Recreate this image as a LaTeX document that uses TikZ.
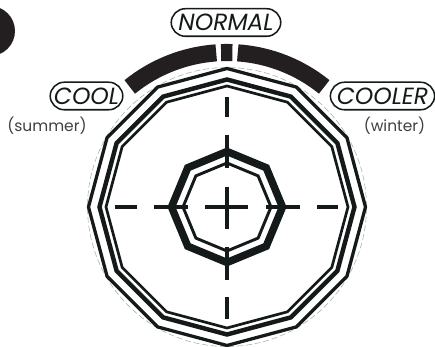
\documentclass[tikz,border=0pt]{standalone}
\usepackage{fontspec}
\setmainfont{Poppins}
\usetikzlibrary{positioning}
\definecolor{inkdark}{HTML}{141A1A}
\definecolor{inkbrown}{HTML}{231F20}
\tikzset{
  pill/.style={draw=inkdark, line width=1.3pt, rounded corners=12pt, inner sep=0pt, minimum height=23.5pt, font=\fontsize{20}{20}\selectfont\itshape, text=inkdark},
  season/.style={font=\fontsize{13.2}{14}\selectfont, text=black!75},
  axisdash/.style={inkdark, line width=2.8pt}
}
\begin{document}
\begin{tikzpicture}[scale=0.03]
\clip (-227,-140) rectangle (208,207);
\useasboundingbox (-227,-140) rectangle (208,207);
% Corner disc
\fill[inkbrown] (-237,176) circle (25);
% Dashed guide circle
\draw[black!35, line width=0.45pt, dash pattern=on 5pt off 2.5pt] (0,0) circle (139.5);
% Twelve sided rings
\foreach \r/\w in {138.5/2.8pt,127.5/3.8pt,121/2.3pt} {
  \draw[inkdark, line width=\w] (90:\r) \foreach \a in {120,150,...,420} { -- (\a:\r) } -- cycle;
}
% Eight sided rings
\foreach \r/\w in {55.5/6.4pt,44/2.5pt} {
  \draw[inkdark, line width=\w] (90:\r) \foreach \a in {135,180,...,405} { -- (\a:\r) } -- cycle;
}
% Axis dashes and centre cross
\foreach \p/\q in {110/90,72/39,-40/-73,-90/-112} {
  \draw[axisdash] (0,\p) -- (0,\q);
}
\foreach \p/\q in {-112/-90,-73/-39,39/73,90/111} {
  \draw[axisdash] (\p,0) -- (\q,0);
}
\draw[axisdash] (0,20) -- (0,-22);
\draw[axisdash] (-22,0) -- (21,0);
% Setting bars
\draw[inkbrown, line width=14.6pt] (94:154.5) arc (94:129:154.5);
\draw[inkbrown, line width=14.6pt] (86:154.5) arc (86:51:154.5);
\draw[inkbrown, line width=14.6pt] (92.2:154.5) arc (92.2:88:154.5);
% Labels
\node[pill, minimum width=62pt] (cool) at (-140.5,111) {COOL};
\node[pill, minimum width=93.5pt] (normal) at (-1,184.5) {NORMAL};
\node[pill, minimum width=89pt] (cooler) at (155.5,111) {COOLER};
\node[season] (summer) at (-180,81) {(summer)};
\node[season] (winter) at (167.5,81) {(winter)};
\end{tikzpicture}
\end{document}
